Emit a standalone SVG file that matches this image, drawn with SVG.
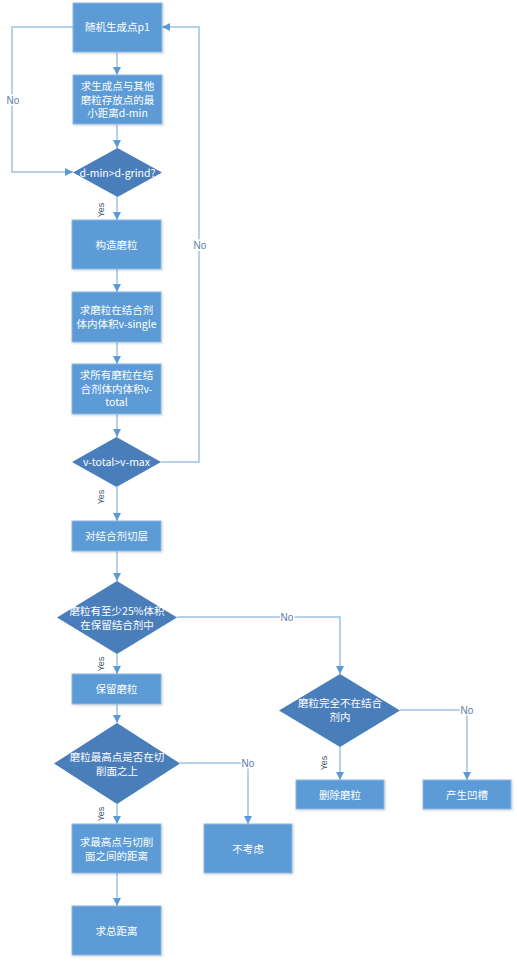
<svg xmlns="http://www.w3.org/2000/svg" width="517" height="963" viewBox="0 0 517 963">
<defs>
<marker id="arr" viewBox="0 0 10 10" refX="10" refY="5" markerWidth="8" markerHeight="8" markerUnits="userSpaceOnUse" orient="auto">
<path d="M0,0 L10,5 L0,10 z" fill="#5B9BD5"/>
</marker>
<filter id="sh" x="-10%" y="-10%" width="130%" height="130%">
<feDropShadow dx="1" dy="1" stdDeviation="1" flood-color="#000" flood-opacity="0.18"/>
</filter>
</defs>
<style>
.box{fill:#5B9BD5;stroke:#8DB8E4;stroke-width:1;filter:url(#sh)}
.dia{fill:#4A7EBB;stroke:none}
.t{font-family:"Noto Sans CJK SC","Liberation Sans",sans-serif;font-size:10.5px;fill:#fff;text-anchor:middle}
.c{fill:none;stroke:#9DC3E6;stroke-width:1.5;marker-end:url(#arr)}
.no{font-family:"Liberation Sans",sans-serif;font-size:10px;fill:#5A7EA6;text-anchor:middle;stroke:#fff;stroke-width:3;paint-order:stroke}
.yes{font-family:"Liberation Sans",sans-serif;font-size:9px;fill:#44546A;text-anchor:middle}
</style>
<rect width="517" height="963" fill="#fff"/>
<g id="connectors">
<path class="c" d="M117,52 V75"/>
<path class="c" d="M117,124 V148"/>
<path class="c" d="M117,197 V220"/>
<path class="c" d="M117,269 V292"/>
<path class="c" d="M117,342 V364"/>
<path class="c" d="M117,414 V437"/>
<path class="c" d="M117,487 V521"/>
<path class="c" d="M117,551 V581"/>
<path class="c" d="M117,654 V674"/>
<path class="c" d="M117,704 V723"/>
<path class="c" d="M117,804 V824"/>
<path class="c" d="M117,873 V906"/>
<path class="c" d="M73,27 H12 V172 H73"/>
<path class="c" d="M161,462 H199 V27 H162"/>
<path class="c" d="M177,617 H340 V674"/>
<path class="c" d="M340,747 V780"/>
<path class="c" d="M400,710 H467 V780"/>
<path class="c" d="M180,763 H248 V824"/>
<text class="no" x="13" y="104">No</text>
<text class="no" x="200" y="249">No</text>
<text class="no" x="287" y="621">No</text>
<text class="no" x="467" y="714">No</text>
<text class="no" x="248" y="767">No</text>
<text class="yes" transform="translate(104,210) rotate(-90)">Yes</text>
<text class="yes" transform="translate(104,497) rotate(-90)">Yes</text>
<text class="yes" transform="translate(104,664) rotate(-90)">Yes</text>
<text class="yes" transform="translate(327,763) rotate(-90)">Yes</text>
<text class="yes" transform="translate(104,814) rotate(-90)">Yes</text>
</g>
<g id="n1"><rect class="box" x="73" y="3" width="89" height="49"/><text class="t" x="117.5" y="31">随机生成点p1</text></g>
<g id="n2"><rect class="box" x="73" y="75" width="89" height="49"/><text class="t" x="117.5" y="90">求生成点与其他</text><text class="t" x="117.5" y="103.5">磨粒存放点的最</text><text class="t" x="117.5" y="117">小距离d-min</text></g>
<g id="n3"><polygon class="dia" points="117.5,148 162,172.5 117.5,197 73,172.5"/><text class="t" x="117.5" y="176.5">d-min&gt;d-grind?</text></g>
<g id="n4"><rect class="box" x="72" y="220" width="89" height="49"/><text class="t" x="116.5" y="248.5">构造磨粒</text></g>
<g id="n5"><rect class="box" x="72" y="292" width="89" height="50"/><text class="t" x="116.5" y="314">求磨粒在结合剂</text><text class="t" x="116.5" y="328">体内体积v-single</text></g>
<g id="n6"><rect class="box" x="72" y="364" width="89" height="50"/><text class="t" x="116.5" y="379">求所有磨粒在结</text><text class="t" x="116.5" y="392.5">合剂体内体积v-</text><text class="t" x="116.5" y="406">total</text></g>
<g id="n7"><polygon class="dia" points="116.5,437 161,462 116.5,487 72,462"/><text class="t" x="116.5" y="466">v-total&gt;v-max</text></g>
<g id="n8"><rect class="box" x="72" y="521" width="89" height="30"/><text class="t" x="116.5" y="540">对结合剂切层</text></g>
<g id="n9"><polygon class="dia" points="117,581 177,617.5 117,654 57,617.5"/><text class="t" x="117" y="615">磨粒有至少25%体积</text><text class="t" x="117" y="629">在保留结合剂中</text></g>
<g id="n10"><rect class="box" x="72" y="674" width="89" height="30"/><text class="t" x="116.5" y="693">保留磨粒</text></g>
<g id="n11"><polygon class="dia" points="340,674 400,710.5 340,747 279,710.5"/><text class="t" x="340" y="707">磨粒完全不在结合</text><text class="t" x="340" y="721">剂内</text></g>
<g id="n12"><rect class="box" x="296" y="780" width="88" height="29"/><text class="t" x="340" y="798.5">删除磨粒</text></g>
<g id="n13"><rect class="box" x="423" y="780" width="88" height="29"/><text class="t" x="467" y="798.5">产生凹槽</text></g>
<g id="n14"><polygon class="dia" points="117,723 180,763.5 117,804 54,763.5"/><text class="t" x="117" y="761">磨粒最高点是否在切</text><text class="t" x="117" y="775">削面之上</text></g>
<g id="n15"><rect class="box" x="72" y="824" width="89" height="49"/><text class="t" x="116.5" y="846">求最高点与切削</text><text class="t" x="116.5" y="859.5">面之间的距离</text></g>
<g id="n16"><rect class="box" x="204" y="824" width="88" height="49"/><text class="t" x="248" y="852.5">不考虑</text></g>
<g id="n17"><rect class="box" x="72" y="906" width="89" height="49"/><text class="t" x="116.5" y="934.5">求总距离</text></g>
</svg>
